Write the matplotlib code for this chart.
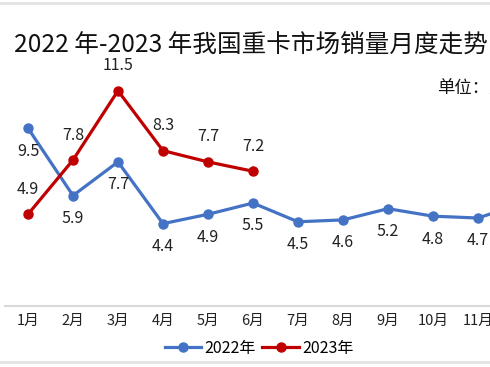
import matplotlib
matplotlib.use('Agg')
import matplotlib.pyplot as plt
from matplotlib.lines import Line2D

plt.rcParams['font.family'] = ['Noto Sans CJK SC', 'DejaVu Sans']

# 数据（万辆）
months = ['1月', '2月', '3月', '4月', '5月', '6月', '7月', '8月', '9月', '10月', '11月', '12月']
sales_2022 = [9.5, 5.9, 7.7, 4.4, 4.9, 5.5, 4.5, 4.6, 5.2, 4.8, 4.7, 5.5]
sales_2023 = [4.9, 7.8, 11.5, 8.3, 7.7, 7.2]

blue = '#4472C4'
red = '#C00000'

fig = plt.figure(figsize=(4.9, 3.67), dpi=100)
# 坐标区比画布宽，右侧被裁掉，和原图一致
ax = fig.add_axes([0.0112, 0.1662, 1.102, 0.714])

x22 = list(range(1, len(sales_2022) + 1))
x23 = list(range(1, len(sales_2023) + 1))
ax.plot(x22, sales_2022, color=blue, lw=2.3, marker='o', ms=6.5, label='2022年', zorder=3)
ax.plot(x23, sales_2023, color=red, lw=2.3, marker='o', ms=6.5, label='2023年', zorder=4)

# 数据标签
for x, v in zip(x22, sales_2022):
    ax.annotate(f'{v:.1f}', (x, v), xytext=(0, -16.5), textcoords='offset points',
                ha='center', va='center', fontsize=11.5, color='#222222')
for i, (x, v) in enumerate(zip(x23, sales_2023)):
    arrow = None
    if i in (0, 5):
        arrow = dict(arrowstyle='-', color='#bfbfbf', lw=0.8, shrinkA=6, shrinkB=4)
    ax.annotate(f'{v:.1f}', (x, v), xytext=(0, 18), textcoords='offset points',
                ha='center', va='center', fontsize=11.5, color='#222222',
                arrowprops=arrow)

ax.set_xlim(0.5, 12.5)
ax.set_ylim(0, 14)
ax.set_xticks(x22)
ax.set_xticklabels(months, fontsize=10.5, color='#222222')
ax.tick_params(axis='x', length=0, pad=5.5)
ax.set_yticks([])
for s in ['top', 'right', 'left']:
    ax.spines[s].set_visible(False)
ax.spines['bottom'].set_color('#d9d9d9')
ax.spines['bottom'].set_linewidth(1.5)

fig.text(14 / 490, 1 - 45 / 367, '2022 年-2023 年我国重卡市场销量月度走势',
         fontsize=17.7, ha='left', va='center', color='#111111')
fig.text(437 / 490, 1 - 88 / 367, '单位：万辆', fontsize=12.5, ha='left', va='center',
         color='#111111')

fig.legend(loc='center', bbox_to_anchor=(259 / 490, 1 - 348 / 367), ncol=2, frameon=False,
           fontsize=11.5, handlelength=2.3, handletextpad=0.2, columnspacing=0.4,
           borderaxespad=0, borderpad=0)

# 截图上下的灰色边线
fig.add_artist(Line2D([0, 1], [1 - 3 / 367, 1 - 3 / 367], color='#e3e3e3', lw=2))
fig.add_artist(Line2D([0, 1], [1 - 362 / 367, 1 - 362 / 367], color='#e3e3e3', lw=2))

fig.savefig('out.png', dpi=100)
